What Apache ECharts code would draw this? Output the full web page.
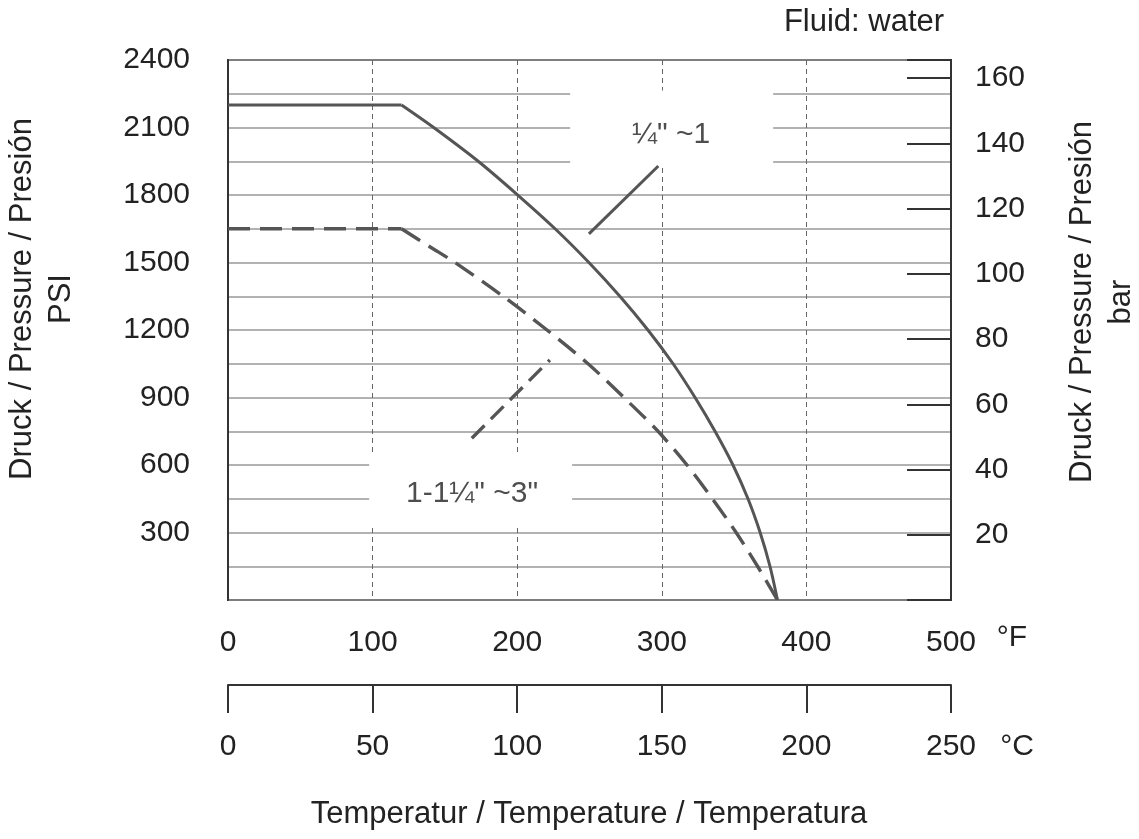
<!DOCTYPE html>
<html>
<head>
<meta charset="utf-8">
<script src="https://cdn.jsdelivr.net/npm/echarts@6/dist/echarts.min.js"></script>
<style>
  html, body { margin: 0; background: #fff; }
  #chart { width: 1139px; height: 839px; }
</style>
</head>
<body>
<div id="chart"></div>
<script>
// pressure rating curves, temperature in °C, pressure in PSI
const smallTempC = [0, 60, 71, 86.5, 100, 113.1, 124.8, 135.5, 145.2, 153.9, 161.5, 168.4, 174.6, 179.8, 184, 187.4, 190];
const smallPsi = [2200, 2200, 2101, 1950, 1802, 1650, 1500, 1350, 1200, 1050, 900, 750, 600, 450, 300, 150, 0];
const largeTempC = [0, 60, 69.8, 78.5, 95.1, 110.3, 124.5, 136.9, 148.7, 158.7, 167.5, 175.7, 183.1, 190];
const largePsi = [1650, 1650, 1570, 1500, 1350, 1200, 1050, 900, 750, 600, 450, 300, 150, 0];

// annotation labels and their leader lines
const labelNames = ['¼" ~1', '1-1¼" ~3"'];
const labelTempC = [153.2, 84.4];
const labelPsi = [2067, 471];
const smallLeaderTempC = [124.8, 148.8];
const smallLeaderPsi = [1627, 1929];
const largeLeaderTempC = [84.3, 111.3];
const largeLeaderPsi = [719, 1067];
// white boxes behind the labels: [tempFrom, tempTo, psiFrom, psiTo]
const labelBoxes = [[118.3, 188.5, 1935, 2265], [48.8, 119, 333, 653]];

const psiPerBar = 14.5;
const psiMax = 2400;

const zip = (xs, ys) => xs.map((x, i) => [x, ys[i]]);

const FONT = "'Liberation Sans', Arial, sans-serif";
const TEXT = '#222';
const LINE = '#555';
const AXIS = '#333';

const chart = echarts.init(document.getElementById('chart'));

const axisText = { color: TEXT, fontSize: 30, fontFamily: FONT };

// flat part and falling part of a curve are drawn separately so the knee stays sharp
function curveSeries(name, xs, ys, lineStyle) {
  const pts = zip(xs, ys);
  const base = { type: 'line', z: 3, symbol: 'none', lineStyle, silent: true };
  return [
    { ...base, name: name + ' flat', data: pts.slice(0, 2) },
    { ...base, name, data: pts.slice(1), smooth: 0.3 },
  ];
}

const option = {
  animation: false,
  grid: {
    left: 228, right: 188, top: 60, bottom: 239,
    show: true, borderColor: AXIS, borderWidth: 2,
  },
  xAxis: [
    {
      // °C scale, drawn below the plot
      type: 'value', position: 'bottom', offset: 85,
      min: 0, max: 250, interval: 50,
      axisLine: { show: true, onZero: false, lineStyle: { color: AXIS, width: 2 } },
      axisTick: { show: true, length: 28, lineStyle: { color: AXIS, width: 2 } },
      axisLabel: { ...axisText, margin: 47 },
      splitLine: { show: true, lineStyle: { color: '#666', width: 1, type: [5, 4] } },
    },
    {
      // °F labels directly under the plot
      type: 'value', position: 'bottom', offset: 0,
      min: 0, max: 500, interval: 100,
      axisLine: { show: false, onZero: false },
      axisTick: { show: false },
      axisLabel: { ...axisText, margin: 28 },
      splitLine: { show: false },
    },
  ],
  yAxis: [
    {
      type: 'value', position: 'left',
      min: 0, max: psiMax, interval: 300,
      axisLine: { show: true, onZero: false, lineStyle: { color: AXIS, width: 2 } },
      axisTick: { show: false },
      axisLabel: { ...axisText, margin: 38, formatter: (v) => (v === 0 ? '' : String(v)) },
      splitLine: { show: true, lineStyle: { color: '#999', width: 1.5 } },
      minorTick: { show: false, splitNumber: 2 },
      minorSplitLine: { show: true, lineStyle: { color: '#999', width: 1.5 } },
    },
    {
      type: 'value', position: 'right',
      min: 0, max: psiMax / psiPerBar, interval: 20,
      axisLine: { show: true, onZero: false, lineStyle: { color: AXIS, width: 2 } },
      axisTick: { show: true, inside: true, length: 44, lineStyle: { color: AXIS, width: 2 } },
      axisLabel: {
        ...axisText, margin: 24,
        formatter: (v) => (v > 0 && v % 20 === 0 ? String(v) : ''),
      },
      splitLine: { show: false },
    },
  ],
  series: [
    {
      name: 'label boxes', type: 'line', data: [], z: 1, silent: true,
      markArea: {
        silent: true,
        itemStyle: { color: '#fff' },
        data: labelBoxes.map((b) => [{ coord: [b[0], b[2]] }, { coord: [b[1], b[3]] }]),
      },
    },
    ...curveSeries(labelNames[0], smallTempC, smallPsi, { color: LINE, width: 3 }),
    ...curveSeries(labelNames[1], largeTempC, largePsi, { color: LINE, width: 3.4, type: [22, 10] }),
    {
      name: 'leader 1', type: 'line', z: 3, symbol: 'none',
      data: zip(smallLeaderTempC, smallLeaderPsi),
      lineStyle: { color: LINE, width: 3 },
    },
    {
      name: 'leader 2', type: 'line', z: 3, symbol: 'none',
      data: zip(largeLeaderTempC, largeLeaderPsi),
      lineStyle: { color: LINE, width: 3.4, type: [18, 9] },
    },
    {
      name: 'labels', type: 'scatter', z: 4, symbolSize: 1,
      itemStyle: { color: 'rgba(0,0,0,0)' },
      data: labelNames.map((n, i) => ({ name: n, value: [labelTempC[i], labelPsi[i]] })),
      label: {
        show: true, position: 'inside', formatter: '{b}',
        color: TEXT, fontSize: 30, fontFamily: FONT,
      },
    },
  ],
  graphic: [
    {
      type: 'text', x: 864, y: 22,
      style: { text: 'Fluid: water', fill: TEXT, font: `31px ${FONT}`, align: 'center', verticalAlign: 'middle' },
    },
    {
      type: 'text', x: 42, y: 299, rotation: Math.PI / 2,
      style: {
        text: 'Druck / Pressure / Presión\nPSI', fill: TEXT, font: `31px ${FONT}`,
        align: 'center', verticalAlign: 'middle', lineHeight: 39,
      },
    },
    {
      type: 'text', x: 1102, y: 302, rotation: Math.PI / 2,
      style: {
        text: 'Druck / Pressure / Presión\nbar', fill: TEXT, font: `31px ${FONT}`,
        align: 'center', verticalAlign: 'middle', lineHeight: 39,
      },
    },
    {
      type: 'text', x: 1012, y: 638,
      style: { text: '°F', fill: TEXT, font: `30px ${FONT}`, align: 'center', verticalAlign: 'middle' },
    },
    {
      type: 'text', x: 1017, y: 747,
      style: { text: '°C', fill: TEXT, font: `30px ${FONT}`, align: 'center', verticalAlign: 'middle' },
    },
    {
      type: 'text', x: 589, y: 814,
      style: {
        text: 'Temperatur / Temperature / Temperatura', fill: TEXT, font: `31px ${FONT}`,
        align: 'center', verticalAlign: 'middle',
      },
    },
  ],
};

chart.setOption(option);
</script>
</body>
</html>
